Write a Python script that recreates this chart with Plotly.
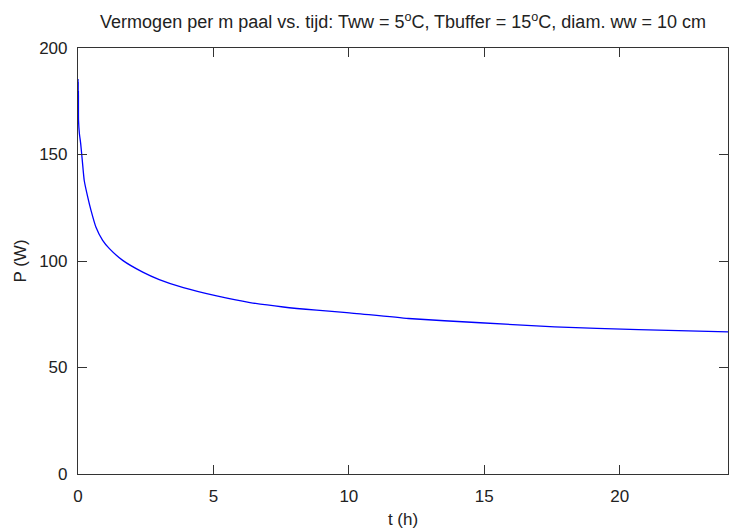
import plotly.graph_objects as go

# time (h) and power per m pile (W)
t_hours = [0, 0.004, 0.008, 0.012, 0.016, 0.02, 0.05, 0.1, 0.16, 0.23, 0.36,
           0.48, 0.66, 0.91, 1.16, 1.65, 2.39, 3.0, 3.89, 5.12, 6.35, 7.58,
           8.81, 9.92, 12.2, 14.85, 17.6, 20.7, 24]
power_w = [185.5, 167, 184, 168, 180, 166, 160, 155, 147, 137.8, 130,
           123.8, 116, 109.7, 105.8, 100.3, 94.8, 91.3, 87.5, 83.6, 80.5, 78.4,
           76.9, 75.8, 73.0, 71.0, 69.1, 67.8, 66.7]

x_ticks = [0, 5, 10, 15, 20]
y_ticks = [0, 50, 100, 150, 200]

FONT = "Liberation Sans, Arial, sans-serif"
AXC = "#333333"
TXT = "#222222"

fig = go.Figure()
fig.add_trace(go.Scatter(x=t_hours, y=power_w, mode="lines",
                         line=dict(color="#0000ff", width=1.3, shape="spline", smoothing=0.5),
                         showlegend=False, hoverinfo="skip"))

axis_common = dict(showline=True, linecolor=AXC, linewidth=1.2, mirror="ticks",
                   ticks="inside", ticklen=9, tickwidth=1, tickcolor=AXC,
                   showgrid=False, zeroline=False,
                   tickfont=dict(family=FONT, size=17, color=TXT))

fig.update_layout(
    width=729, height=532,
    margin=dict(l=78, r=1, t=48, b=58),
    paper_bgcolor="white", plot_bgcolor="white",
    title=dict(text="Vermogen per m paal vs. tijd: Tww = 5<sup>o</sup>C, Tbuffer = 15<sup>o</sup>C, diam. ww = 10 cm",
               x=(78 + 728) / 2 / 729, xanchor="center",
               yref="container", y=1 - 22 / 532, yanchor="middle",
               font=dict(family=FONT, size=18, color=TXT)),
    xaxis=dict(range=[0, 24], tickvals=x_ticks, ticklabelstandoff=6,
               title=dict(text="t (h)", standoff=8, font=dict(family=FONT, size=17, color=TXT)),
               **axis_common),
    yaxis=dict(range=[0, 200], tickvals=y_ticks, ticklabelstandoff=6,
               title=dict(text="P (W)", standoff=8, font=dict(family=FONT, size=17, color=TXT)),
               **axis_common),
)

fig.write_html("out.html")
